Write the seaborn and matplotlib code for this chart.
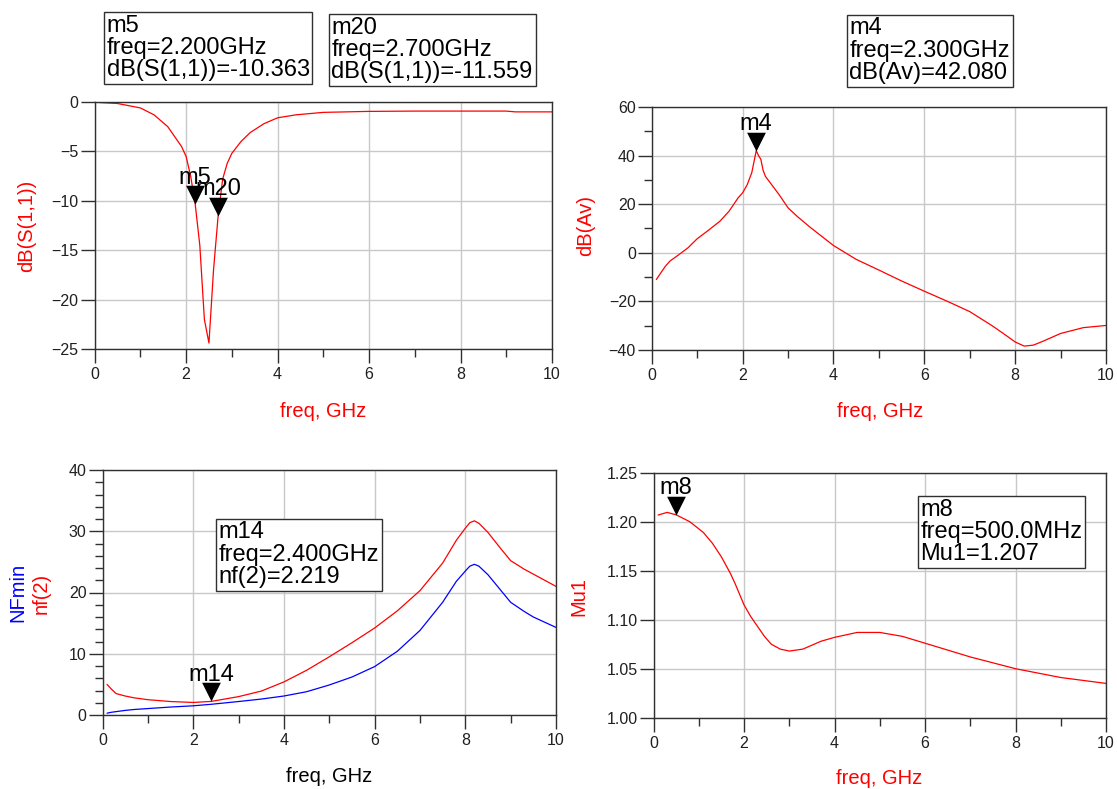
import numpy as np
import matplotlib
matplotlib.use("Agg")
import matplotlib.pyplot as plt
from matplotlib.ticker import MultipleLocator, FormatStrFormatter
import seaborn as sns

# S11 (top left)
s11_freq = [0.1, 0.5, 1.0, 1.3, 1.6, 1.9, 2.0, 2.1, 2.2, 2.3, 2.4, 2.5, 2.6, 2.7, 2.8,
            2.9, 3.0, 3.2, 3.4, 3.7, 4.0, 4.4, 5.0, 5.5, 6.0, 7.0, 8.0, 9.0, 9.2, 10.0]
s11_db = [-0.05, -0.15, -0.6, -1.3, -2.5, -4.5, -5.5, -7.5, -10.363, -14.5, -22.0, -24.4,
          -17.0, -11.559, -7.8, -6.2, -5.2, -4.0, -3.1, -2.2, -1.6, -1.3, -1.05, -1.0,
          -0.95, -0.92, -0.92, -0.92, -1.0, -1.0]

# voltage gain (top right)
av_freq = [0.1, 0.2, 0.3, 0.4, 0.6, 0.8, 1.0, 1.2, 1.5, 1.7, 1.9, 2.0, 2.1, 2.2, 2.3,
           2.35, 2.4, 2.45, 2.5, 2.6, 2.8, 3.0, 3.2, 3.5, 4.0, 4.5, 5.0, 5.5, 6.0, 6.5,
           7.0, 7.5, 7.8, 8.0, 8.2, 8.4, 8.6, 9.0, 9.5, 10.0]
av_db = [-11.0, -8.2, -5.5, -3.4, -0.7, 2.1, 5.8, 8.6, 13.0, 17.1, 22.6, 24.7, 28.0, 32.9,
         42.08, 40.0, 38.5, 34.0, 31.5, 29.0, 24.0, 18.5, 15.0, 10.3, 3.0, -2.7, -7.1,
         -11.6, -15.8, -19.9, -24.2, -30.1, -34.0, -36.7, -38.4, -38.0, -36.5, -33.2,
         -30.8, -29.9]

# noise figure (bottom left)
nf_freq = [0.1, 0.2, 0.3, 0.5, 0.7, 1.0, 1.5, 2.0, 2.4, 3.0, 3.5, 4.0, 4.5, 5.0, 5.5,
           6.0, 6.5, 7.0, 7.5, 7.8, 8.0, 8.1, 8.2, 8.3, 8.5, 8.8, 9.0, 9.3, 9.5, 10.0]
nf2 = [5.0, 4.2, 3.5, 3.1, 2.8, 2.5, 2.2, 2.05, 2.219, 3.0, 3.9, 5.4, 7.3, 9.5, 11.8,
       14.2, 17.0, 20.3, 24.8, 28.5, 30.5, 31.4, 31.7, 31.3, 29.8, 27.0, 25.2, 23.8,
       23.0, 21.0]
nfmin = [0.3, 0.45, 0.55, 0.75, 0.9, 1.05, 1.3, 1.5, 1.75, 2.2, 2.6, 3.1, 3.8, 4.9, 6.2,
         7.9, 10.4, 13.8, 18.4, 21.8, 23.5, 24.3, 24.6, 24.3, 22.9, 20.2, 18.4, 16.9,
         16.0, 14.3]

# stability factor (bottom right)
mu_freq = [0.1, 0.3, 0.5, 0.8, 1.1, 1.3, 1.5, 1.7, 1.8, 2.0, 2.15, 2.3, 2.45, 2.6, 2.8,
           3.0, 3.3, 3.7, 4.0, 4.5, 5.0, 5.5, 6.0, 7.0, 8.0, 9.0, 10.0]
mu1 = [1.2068, 1.2095, 1.207, 1.200, 1.189, 1.178, 1.164, 1.147, 1.137, 1.115, 1.103,
       1.093, 1.083, 1.075, 1.070, 1.068, 1.070, 1.078, 1.082, 1.087, 1.087, 1.083,
       1.076, 1.062, 1.050, 1.041, 1.035]

# markers: (name, freq, value)
markers_tl = [("m5", 2.2, -10.363), ("m20", 2.7, -11.559)]
markers_tr = [("m4", 2.3, 42.080)]
markers_bl = [("m14", 2.4, 2.219)]
markers_br = [("m8", 0.5, 1.207)]

readouts = [
    ("m5\nfreq=2.200GHz\ndB(S(1,1))=-10.363", 106.5, 14.5),
    ("m20\nfreq=2.700GHz\ndB(S(1,1))=-11.559", 331.5, 16.5),
    ("m4\nfreq=2.300GHz\ndB(Av)=42.080", 849.5, 17.5),
    ("m14\nfreq=2.400GHz\nnf(2)=2.219", 218.5, 521.5),
    ("m8\nfreq=500.0MHz\nMu1=1.207", 920.5, 498.5),
]

sns.set_theme(style="ticks")
plt.rcParams["font.family"] = ["Liberation Sans", "DejaVu Sans"]

W, H = 1117, 789
fig = plt.figure(figsize=(W / 100, H / 100), dpi=100)
fig.patch.set_facecolor("white")

RED = "#ff0000"
BLUE = "#0000ff"
tri = [(-0.5, 1.0), (0.5, 1.0), (0.0, 0.0)]


def make_ax(x0, x1, y0, y1):
    # pixel box -> figure fraction
    return fig.add_axes([x0 / W, 1 - y1 / H, (x1 - x0) / W, (y1 - y0) / H])


def style(ax, ylo, yhi, ymaj, ymin=None):
    ax.set_xlim(0, 10)
    ax.set_ylim(ylo, yhi)
    ax.xaxis.set_major_locator(MultipleLocator(2))
    ax.xaxis.set_minor_locator(MultipleLocator(1))
    ax.yaxis.set_major_locator(MultipleLocator(ymaj))
    if ymin:
        ax.yaxis.set_minor_locator(MultipleLocator(ymin))
    ax.grid(True, which="major", color="#c8c8c8", lw=1.0)
    ax.set_axisbelow(True)
    for sp in ax.spines.values():
        sp.set_color("#303030")
        sp.set_linewidth(1.0)
    ax.tick_params(which="major", length=10, width=1, color="#303030",
                   labelsize=11.5, labelcolor="#202020")
    ax.tick_params(which="minor", length=5.5, width=1, color="#303030")
    ax.tick_params(axis="x", which="major", pad=3)
    ax.tick_params(axis="y", which="major", pad=1.5)
    ax.set_xlabel("")
    ax.set_ylabel("")


def put_markers(ax, mlist):
    for name, f, v in mlist:
        ax.plot([f], [v], marker=tri, ms=27, color="black", mew=0, ls="none",
                zorder=6, clip_on=False)
        ax.annotate(name, (f, v), xytext=(0, 15), textcoords="offset points",
                    ha="center", va="baseline", fontsize=17, color="black", zorder=7)


# top left
ax1 = make_ax(94.6, 552, 102, 349)
sns.lineplot(x=s11_freq, y=s11_db, ax=ax1, color=RED, lw=0.9, sort=False)
style(ax1, -25, 0, 5)
put_markers(ax1, markers_tl)

# top right
ax2 = make_ax(651.8, 1106, 107, 350)
sns.lineplot(x=av_freq, y=av_db, ax=ax2, color=RED, lw=0.9, sort=False)
style(ax2, -40, 60, 20, 10)
put_markers(ax2, markers_tr)

# bottom left
ax3 = make_ax(102.5, 556, 470, 715)
sns.lineplot(x=nf_freq, y=nfmin, ax=ax3, color=BLUE, lw=0.9, sort=False)
sns.lineplot(x=nf_freq, y=nf2, ax=ax3, color=RED, lw=0.9, sort=False)
style(ax3, 0, 40, 10, 2)
put_markers(ax3, markers_bl)

# bottom right
ax4 = make_ax(653.6, 1106, 472.7, 717.7)
sns.lineplot(x=mu_freq, y=mu1, ax=ax4, color=RED, lw=0.9, sort=False)
style(ax4, 1.0, 1.25, 0.05)
ax4.yaxis.set_major_formatter(FormatStrFormatter("%.2f"))
put_markers(ax4, markers_br)

# axis titles
lab = dict(fontsize=14.5, ha="center", va="center")
fig.text(323 / W, 1 - 412 / H, "freq, GHz", color=RED, **lab)
fig.text(880 / W, 1 - 412 / H, "freq, GHz", color=RED, **lab)
fig.text(329 / W, 1 - 777 / H, "freq, GHz", color="black", **lab)
fig.text(879 / W, 1 - 778 / H, "freq, GHz", color=RED, **lab)
fig.text(27 / W, 1 - 226 / H, "dB(S(1,1))", color=RED, rotation=90, **lab)
fig.text(586 / W, 1 - 226 / H, "dB(Av)", color=RED, rotation=90, **lab)
fig.text(18 / W, 1 - 592 / H, "NFmin", color=BLUE, rotation=90, **lab)
fig.text(41 / W, 1 - 593 / H, "nf(2)", color=RED, rotation=90, **lab)
fig.text(579 / W, 1 - 597 / H, "Mu1", color=RED, rotation=90, **lab)

# marker readout boxes
for txt, px, py in readouts:
    fig.text(px / W, 1 - py / H, txt, fontsize=17, ha="left", va="top",
             linespacing=1.02, color="black",
             bbox=dict(boxstyle="square,pad=0.12", fc="white", ec="#303030", lw=1.0))

fig.savefig("out.png", dpi=100, facecolor="white")
